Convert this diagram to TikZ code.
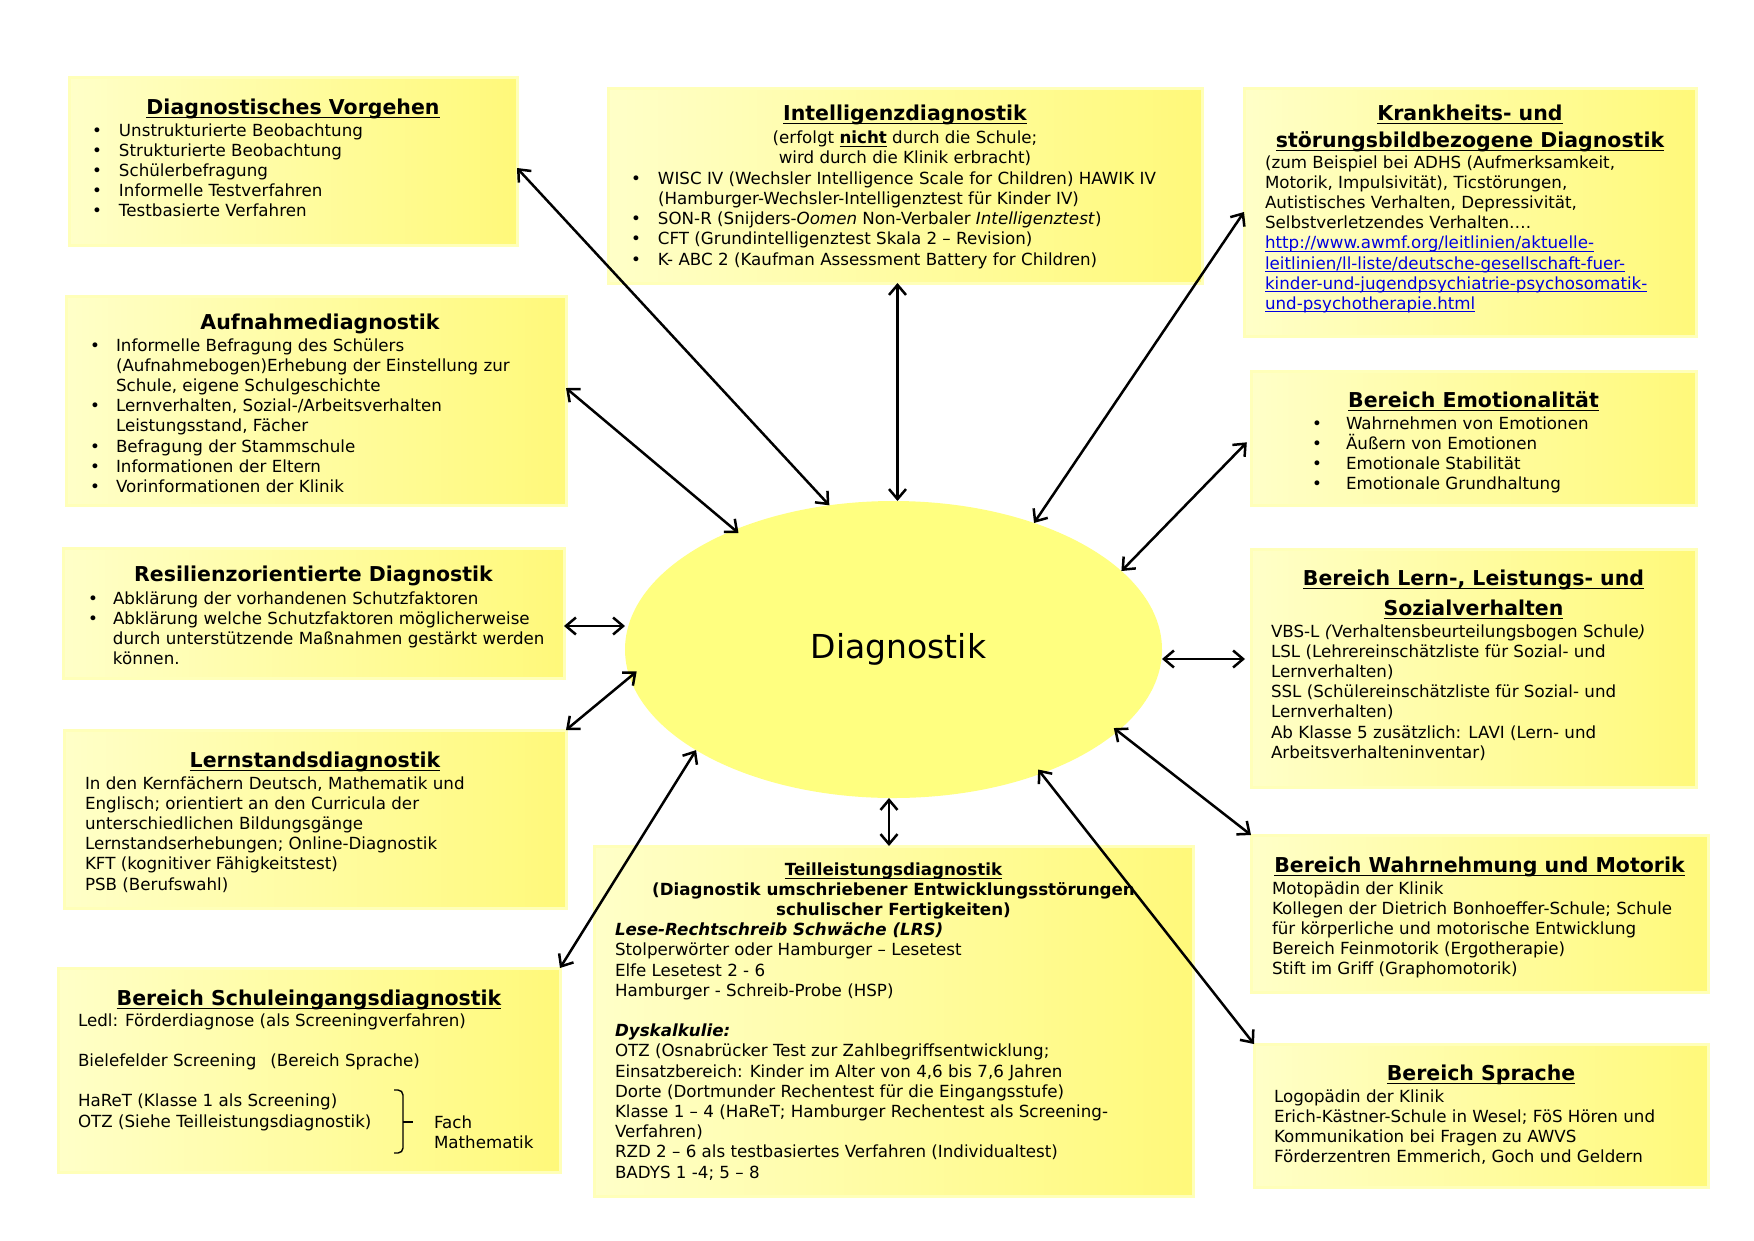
\documentclass[tikz,border=0pt]{standalone}
\usepackage{fontspec}
\setmainfont{DejaVu Sans}
\usetikzlibrary{arrows.meta,shapes.geometric}
\definecolor{linkblue}{RGB}{0,0,225}
\definecolor{ellfill}{RGB}{255,255,128}
\definecolor{boxA}{RGB}{255,255,200}
\definecolor{boxB}{RGB}{255,249,122}
\definecolor{boxframe}{RGB}{255,255,185}
\newlength\ulw
\newcommand\myul[1]{\leavevmode\settowidth\ulw{#1}\rlap{#1}\rule[-4.2pt]{\ulw}{1.5pt}}
\newcommand\mylnk[1]{\leavevmode{\color{linkblue}\settowidth\ulw{#1}\rlap{#1}\rule[-2.8pt]{\ulw}{1.1pt}}}
\newcommand\mybi[3]{\par\hangindent=#2pt\hangafter=1\noindent\hbox to #2pt{\hskip#1pt\textbullet\hfil}#3\par}
\newcommand\myttl[2][27pt]{{\centering\fontsize{20.5}{#1}\selectfont\bfseries #2\par}}
\newcommand\bodyfont{\fontsize{16.7}{20.2}\selectfont}
\begin{document}
\begin{tikzpicture}[x=1pt,y=-1pt,
 ybox/.style={rectangle, anchor=north west, inner sep=0pt, outer sep=0pt, left color=boxA, right color=boxB, draw=boxframe, line width=3pt},
 txt/.style={anchor=base west, inner sep=0pt, outer sep=0pt},
 arr/.style={line width=2.5pt, {Straight Barb[length=10pt,width=17pt]}-{Straight Barb[length=10pt,width=17pt]}}]
\fill[white] (0,0) rectangle (1754,1240);
\useasboundingbox (0,0) rectangle (1754,1240);
% boxes
\node[ybox, minimum width=448pt, minimum height=168pt] (b1) at (69,77) {};
\node[ybox, minimum width=594pt, minimum height=195pt] (b2) at (608,88) {};
\node[ybox, minimum width=452pt, minimum height=248pt] (b3) at (1244,88) {};
\node[ybox, minimum width=500pt, minimum height=209pt] (b4) at (66,296) {};
\node[ybox, minimum width=445pt, minimum height=134pt] (b5) at (1251,371) {};
\node[ybox, minimum width=501pt, minimum height=130pt] (b6) at (63,548) {};
\node[ybox, minimum width=445pt, minimum height=238pt] (b7) at (1251,549) {};
\node[ybox, minimum width=502pt, minimum height=178pt] (b8) at (64,730) {};
\node[ybox, minimum width=502pt, minimum height=204pt] (b9) at (58,968) {};
\node[ybox, minimum width=599pt, minimum height=350pt] (b10) at (594,846) {};
\node[ybox, minimum width=457pt, minimum height=157pt] (b11) at (1251,835) {};
\node[ybox, minimum width=454pt, minimum height=143pt] (b12) at (1254,1044) {};
% ellipse
\node[ellipse, fill=ellfill, minimum width=537pt, minimum height=297pt, inner sep=0pt, outer sep=0pt, font=\fontsize{33}{40}\selectfont] (ell) at (893.5,649.5) {\hspace*{10pt}Diagnostik};
% texts
\node[txt] (t1) at (69,114) {\parbox[t]{448pt}{\bodyfont
\myttl{\myul{Diagnostisches Vorgehen}}
\vspace{1.8pt}
\mybi{23}{50}{Unstrukturierte Beobachtung}
\mybi{23}{50}{Strukturierte Beobachtung}
\mybi{23}{50}{Schülerbefragung}
\mybi{23}{50}{Informelle Testverfahren}
\mybi{23}{50}{Testbasierte Verfahren}}};
\node[txt] (t2) at (608,120) {\parbox[t]{594pt}{\bodyfont
\myttl{\myul{Intelligenzdiagnostik}}
\vspace{2.8pt}
{\centering (erfolgt \textbf{\myul{nicht}} durch die Schule;\\ wird durch die Klinik erbracht)\par}
\vspace{0.8pt}
\mybi{23}{50}{WISC IV (Wechsler Intelligence Scale for Children) HAWIK IV\\(Hamburger-Wechsler-Intelligenztest für Kinder IV)}
\mybi{23}{50}{SON-R (Snijders-\textit{Oomen} Non-Verbaler \textit{Intelligenztest})}
\mybi{23}{50}{CFT (Grundintelligenztest Skala 2 – Revision)}
\mybi{23}{50}{K- ABC 2 (Kaufman Assessment Battery for Children)}}};
\node[txt] (t3) at (1244,120) {\parbox[t]{452pt}{\bodyfont
\myttl{\myul{Krankheits- und}\\\myul{störungsbildbezogene Diagnostik}}
\vspace{0.8pt}
{\leftskip=21pt (zum Beispiel bei ADHS (Aufmerksamkeit,\\ Motorik, Impulsivität), Ticstörungen,\\ Autistisches Verhalten, Depressivität,\\ Selbstverletzendes Verhalten….\\ \mylnk{http://www.awmf.org/leitlinien/aktuelle-}\\ \mylnk{leitlinien/ll-liste/deutsche-gesellschaft-fuer-}\\ \mylnk{kinder-und-jugendpsychiatrie-psychosomatik-}\\ \mylnk{und-psychotherapie.html}\par}}};
\node[txt] (t4) at (66,329) {\parbox[t]{508pt}{\bodyfont
\myttl{Aufnahmediagnostik}
\vspace{1.8pt}
\mybi{24}{50}{Informelle Befragung des Schülers\\(Aufnahmebogen)Erhebung der Einstellung zur\\Schule, eigene Schulgeschichte}
\mybi{24}{50}{Lernverhalten, Sozial-/Arbeitsverhalten\\Leistungsstand, Fächer}
\mybi{24}{50}{Befragung der Stammschule}
\mybi{24}{50}{Informationen der Eltern}
\mybi{24}{50}{Vorinformationen der Klinik}}};
\node[txt] (t5) at (1251,407) {\parbox[t]{445pt}{\bodyfont
\myttl{\myul{Bereich Emotionalität}}
\vspace{1.8pt}
\mybi{61}{95}{Wahrnehmen von Emotionen}
\mybi{61}{95}{Äußern von Emotionen}
\mybi{61}{95}{Emotionale Stabilität}
\mybi{61}{95}{Emotionale Grundhaltung}}};
\node[txt] (t6) at (63,581) {\parbox[t]{501pt}{\bodyfont
\myttl{Resilienzorientierte Diagnostik}
\vspace{2.8pt}
\mybi{25}{50}{Abklärung der vorhandenen Schutzfaktoren}
\mybi{25}{50}{Abklärung welche Schutzfaktoren möglicherweise\\durch unterstützende Maßnahmen gestärkt werden\\können.}}};
\node[txt] (t7) at (1251,585) {\parbox[t]{445pt}{\bodyfont
\myttl[30pt]{\myul{Bereich Lern-, Leistungs- und}\\\myul{Sozialverhalten}}
\vspace{1.8pt}
{\leftskip=20pt VBS-L \textit{(}Verhaltensbeurteilungsbogen Schule\textit{)}\\ LSL (Lehrereinschätzliste für Sozial- und\\ Lernverhalten)\\ SSL (Schülereinschätzliste für Sozial- und\\ Lernverhalten)\\ Ab Klasse 5 zusätzlich: LAVI (Lern- und\\ Arbeitsverhalteninventar)\par}}};
\node[txt] (t8) at (64,767) {\parbox[t]{502pt}{\bodyfont
\myttl{\myul{Lernstandsdiagnostik}}
\vspace{1.8pt}
{\leftskip=21pt In den Kernfächern Deutsch, Mathematik und\\ Englisch; orientiert an den Curricula der\\ unterschiedlichen Bildungsgänge\\ Lernstandserhebungen; Online-Diagnostik\\ KFT (kognitiver Fähigkeitstest)\\ PSB (Berufswahl)\par}}};
\node[txt] (t9) at (58,1005) {\parbox[t]{502pt}{\bodyfont
\myttl{\myul{Bereich Schuleingangsdiagnostik}}
\vspace{0.8pt}
{\leftskip=20pt Ledl: Förderdiagnose (als Screeningverfahren)\\[20.2pt] Bielefelder Screening\hspace{14pt}(Bereich Sprache)\\[20.2pt] HaReT (Klasse 1 als Screening)\\ OTZ (Siehe Teilleistungsdiagnostik)\par}}};
\node[txt] (fach) at (434,1128) {\parbox[t]{110pt}{\bodyfont Fach\\Mathematik}};
\node[txt] (t10) at (594,875) {\parbox[t]{599pt}{\bodyfont
{\centering\bfseries \myul{Teilleistungsdiagnostik}\\ (Diagnostik umschriebener Entwicklungsstörungen\\ schulischer Fertigkeiten)\par}
{\leftskip=21pt \textbf{\textit{Lese-Rechtschreib Schwäche (LRS)}}\\ Stolperwörter oder Hamburger – Lesetest\\ Elfe Lesetest 2 - 6\\ Hamburger - Schreib-Probe (HSP)\\[20.2pt] \textbf{\textit{Dyskalkulie:}}\\ OTZ (Osnabrücker Test zur Zahlbegriffsentwicklung;\\ Einsatzbereich: Kinder im Alter von 4,6 bis 7,6 Jahren\\ Dorte (Dortmunder Rechentest für die Eingangsstufe)\\ Klasse 1 – 4 (HaReT; Hamburger Rechentest als Screening-\\ Verfahren)\\ RZD 2 – 6 als testbasiertes Verfahren (Individualtest)\\ BADYS 1 -4; 5 – 8\par}}};
\node[txt] (t11) at (1251,872) {\parbox[t]{457pt}{\bodyfont
\myttl{\myul{Bereich Wahrnehmung und Motorik}}
\vspace{1.8pt}
{\leftskip=21pt Motopädin der Klinik\\ Kollegen der Dietrich Bonhoeffer-Schule; Schule\\ für körperliche und motorische Entwicklung\\ Bereich Feinmotorik (Ergotherapie)\\ Stift im Griff (Graphomotorik)\par}}};
\node[txt] (t12) at (1254,1080) {\parbox[t]{454pt}{\bodyfont
\myttl{\myul{Bereich Sprache}}
\vspace{1.8pt}
{\leftskip=20pt Logopädin der Klinik\\ Erich-Kästner-Schule in Wesel; FöS Hören und\\ Kommunikation bei Fragen zu AWVS\\ Förderzentren Emmerich, Goch und Geldern\par}}};
% brace
\draw[line width=1.4pt, rounded corners=5pt] (394,1090) -| (403,1153) -- (394,1153);
\draw[line width=1.4pt] (403,1122) -- (413,1122);
% connectors
\coordinate (c2) at ([xshift=4pt]ell.north);
\coordinate (c6) at ([yshift=-13pt]b6.east);
\coordinate (c7) at ([yshift=-9.5pt]ell.east);
\coordinate (c10) at ([xshift=-4.5pt]ell.south);
\draw[arr] ([yshift=-7pt]b1.east) -- (ell.114);
\draw[arr] (b2.south -| c2) -- (c2);
\draw[arr] (b3.west) -- (ell.42);
\draw[arr, shorten >=-5pt] ([yshift=12.5pt]b4.east) -- (ell.143);
\draw[arr, shorten <=6pt] (b5.west) -- (ell.19);
\draw[arr] (c6) -- (c6 -| ell.west);
\draw[arr, shorten >=6pt] (c7) -- (c7 -| b7.west);
\draw[arr, shorten >=-9pt] (b8.north east) -- (ell.186);
\draw[arr] (b9.north east) -- (ell.207);
\draw[arr] (c10) -- (c10 |- b10.north);
\draw[arr, shorten <=-5pt] (ell.-20) -- (b11.north west);
\draw[arr, shorten <=-5pt] (ell.-40) -- (b12.north west);
\end{tikzpicture}
\end{document}
